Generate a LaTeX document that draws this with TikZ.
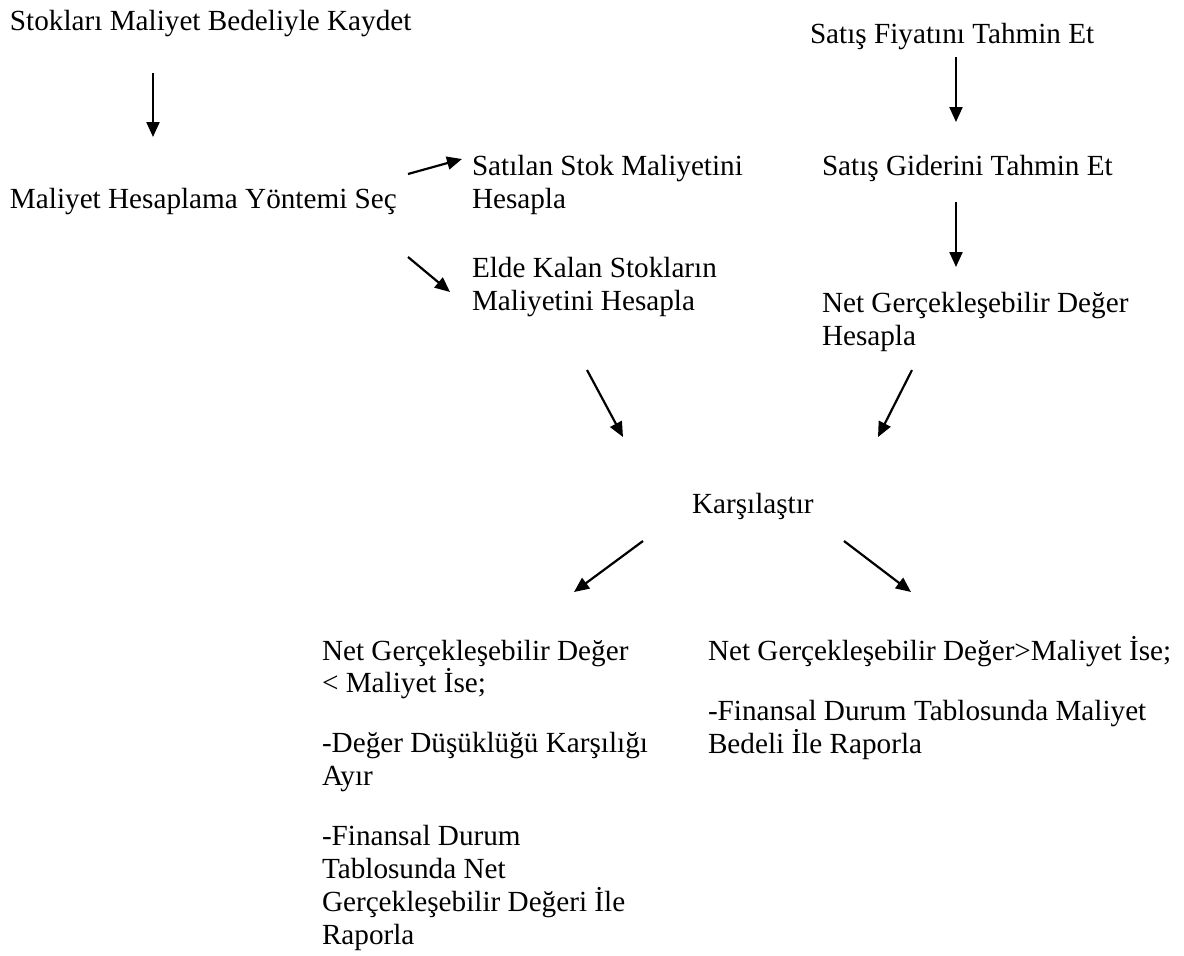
\documentclass[tikz,border=0pt]{standalone}
\usepackage{fontspec}
\setmainfont{Liberation Serif}
\usepackage{tikz}
\usetikzlibrary{arrows.meta}

\begin{document}
\begin{tikzpicture}[x=0.5pt, y=-0.5pt, >={Triangle[length=7.5pt,width=6.5pt]},
  txt/.style={anchor=base west, inner sep=0pt, outer sep=0pt, align=left,
    font=\fontsize{14.6pt}{16.4pt}\selectfont},
  arr/.style={->, line width=1.1pt}]
  \useasboundingbox (0,0) rectangle (1184,955);

  % left column (multi-line nodes sit on their last baseline)
  \node[txt] (kaydet)  at (10,30)   {Stokları Maliyet Bedeliyle Kaydet};
  \node[txt] (yontem)  at (10,208)  {Maliyet Hesaplama Yöntemi Seç};
  \node[txt] (satilan) at (472,208) {Satılan Stok Maliyetini\\Hesapla};
  \node[txt] (elde)    at (472,310) {Elde Kalan Stokların\\Maliyetini Hesapla};

  % right column
  \node[txt] (fiyat) at (810,43)  {Satış Fiyatını Tahmin Et};
  \node[txt] (gider) at (822,175) {Satış Giderini Tahmin Et};
  \node[txt] (ngd)   at (822,345) {Net Gerçekleşebilir Değer\\Hesapla};

  \node[txt] (karsi) at (692,513) {Karşılaştır};

  \node[txt] (sol) at (322,944) {Net Gerçekleşebilir Değer\\< Maliyet İse;\\[13.6pt]
    -Değer Düşüklüğü Karşılığı\\Ayır\\[13.6pt]
    -Finansal Durum\\Tablosunda Net\\Gerçekleşebilir Değeri İle\\Raporla};
  \node[txt] (sag) at (708,753) {Net Gerçekleşebilir Değer>Maliyet İse;\\[13.6pt]
    -Finansal Durum Tablosunda Maliyet\\Bedeli İle Raporla};

  % arrow ends
  \coordinate (a1s) at (153,73);  \coordinate (a1e) at (153,137);
  \coordinate (a2s) at (408,174); \coordinate (a2e) at (462,159);
  \coordinate (a3s) at (408,257); \coordinate (a3e) at (450,292);
  \coordinate (a4s) at (956,57);  \coordinate (a4e) at (956,122);
  \coordinate (a5s) at (956,202); \coordinate (a5e) at (956,267);
  \coordinate (a6s) at (587,370); \coordinate (a6e) at (623,437);
  \coordinate (a7s) at (912,370); \coordinate (a7e) at (878,437);
  \coordinate (a8s) at (643,541); \coordinate (a8e) at (574,592);
  \coordinate (a9s) at (844,541); \coordinate (a9e) at (911,592);

  \foreach \i in {1,...,9}
    \draw[arr] (a\i s) -- (a\i e);
\end{tikzpicture}
\end{document}
